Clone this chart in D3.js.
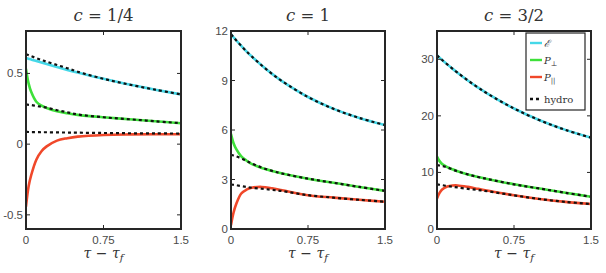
<!DOCTYPE html>
<html>
<head>
<meta charset="utf-8">
<script src="https://cdn.jsdelivr.net/npm/d3@7"></script>
<style>
  body { margin: 0; background: #fff; }
  svg text { font-family: "Liberation Sans", Arial, sans-serif; }
</style>
</head>
<body>
<svg id="chart" width="606" height="273"></svg>
<script>
// data
const tau = [0, 0.025, 0.05, 0.1, 0.15, 0.2, 0.3, 0.4, 0.5, 0.75, 1.0, 1.25, 1.5];

// c = 1/4
const e_q = [0.61, 0.604, 0.599, 0.588, 0.577, 0.566, 0.545, 0.525, 0.506, 0.462, 0.421, 0.385, 0.352];
const pt_q = [0.53, 0.43, 0.37, 0.3, 0.272, 0.256, 0.232, 0.218, 0.207, 0.19, 0.176, 0.162, 0.148];
const pl_q = [-0.44, -0.3, -0.22, -0.11, -0.05, -0.016, 0.025, 0.042, 0.053, 0.065, 0.069, 0.07, 0.07];
const he_q = [0.636, 0.629, 0.622, 0.608, 0.595, 0.583, 0.56, 0.537, 0.512, 0.462, 0.421, 0.385, 0.352];
const hpt_q = [0.28, 0.278, 0.276, 0.27, 0.264, 0.258, 0.24, 0.225, 0.21, 0.19, 0.176, 0.162, 0.148];
const hpl_q = [0.086, 0.086, 0.085, 0.085, 0.084, 0.084, 0.083, 0.082, 0.081, 0.079, 0.077, 0.076, 0.075];

// c = 1
const e_1 = [11.8, 11.62, 11.44, 11.1, 10.77, 10.47, 9.91, 9.4, 8.95, 8.0, 7.28, 6.73, 6.3];
const pt_1 = [5.76, 5.2, 4.85, 4.4, 4.15, 3.95, 3.7, 3.52, 3.36, 3.05, 2.8, 2.55, 2.31];
const pl_1 = [0.24, 1.0, 1.5, 2.15, 2.38, 2.5, 2.55, 2.47, 2.35, 2.05, 1.9, 1.77, 1.65];
const he_1 = [11.8, 11.62, 11.44, 11.1, 10.77, 10.47, 9.91, 9.4, 8.95, 8.0, 7.28, 6.73, 6.3];
const hpt_1 = [4.5, 4.45, 4.4, 4.28, 4.12, 3.98, 3.72, 3.52, 3.36, 3.05, 2.8, 2.55, 2.31];
const hpl_1 = [2.69, 2.68, 2.66, 2.6, 2.55, 2.5, 2.44, 2.37, 2.3, 2.05, 1.9, 1.77, 1.65];

// c = 3/2
const e_3 = [30.7, 30.28, 29.87, 29.1, 28.35, 27.63, 26.26, 25.0, 23.84, 21.3, 19.22, 17.52, 16.15];
const pt_3 = [12.8, 12.0, 11.5, 10.95, 10.55, 10.2, 9.65, 9.2, 8.8, 7.9, 7.15, 6.4, 5.71];
const pl_3 = [5.4, 6.4, 7.0, 7.5, 7.68, 7.7, 7.45, 7.1, 6.75, 5.95, 5.3, 4.8, 4.42];
const he_3 = [30.7, 30.28, 29.87, 29.1, 28.35, 27.63, 26.26, 25.0, 23.84, 21.3, 19.22, 17.52, 16.15];
const hpt_3 = [11.3, 11.22, 11.15, 10.9, 10.52, 10.2, 9.65, 9.2, 8.8, 7.9, 7.15, 6.4, 5.71];
const hpl_3 = [7.9, 7.82, 7.75, 7.6, 7.47, 7.35, 7.1, 6.9, 6.65, 5.95, 5.3, 4.8, 4.42];

const x_ticks = [0, 0.75, 1.5];
const x_tick_labels = ["0", "0.75", "1.5"];

const panels = [
  { title: "1/4", left: 26, right: 181, domain: [-0.6, 0.8], ticks: [-0.5, 0, 0.5], labels: ["-0.5", "0", "0.5"],
    e: e_q, pt: pt_q, pl: pl_q, he: he_q, hpt: hpt_q, hpl: hpl_q },
  { title: "1", left: 231, right: 385, domain: [0, 12], ticks: [0, 3, 6, 9, 12], labels: ["0", "3", "6", "9", "12"],
    e: e_1, pt: pt_1, pl: pl_1, he: he_1, hpt: hpt_1, hpl: hpl_1 },
  { title: "3/2", left: 437, right: 591, domain: [0, 35], ticks: [0, 10, 20, 30], labels: ["0", "10", "20", "30"],
    e: e_3, pt: pt_3, pl: pl_3, he: he_3, hpt: hpt_3, hpl: hpl_3 }
];

const top_y = 31;
const bottom_y = 229;
const col_e = "#45d8e8";
const col_pt = "#3ee03a";
const col_pl = "#f0482a";
const frame_col = "#262626";
const tick_col = "#4a4a4a";

const svg = d3.select("#chart");

panels.forEach((p) => {
  const x = d3.scaleLinear().domain([0, 1.5]).range([p.left, p.right]);
  const y = d3.scaleLinear().domain(p.domain).range([bottom_y, top_y]);
  const g = svg.append("g");

  const clip_id = "clip" + p.left;
  g.append("clipPath").attr("id", clip_id)
    .append("rect").attr("x", p.left).attr("y", top_y).attr("width", p.right - p.left).attr("height", bottom_y - top_y);

  const line = (vals) => d3.line().x((d, i) => x(tau[i])).y((d) => y(d)).curve(d3.curveCatmullRom.alpha(0.5))(vals);

  const plot = g.append("g").attr("clip-path", `url(#${clip_id})`);
  [[p.e, col_e], [p.pt, col_pt], [p.pl, col_pl]].forEach(([vals, col]) => {
    plot.append("path").attr("d", line(vals)).attr("fill", "none")
      .attr("stroke", col).attr("stroke-width", 2.6).attr("stroke-linecap", "round");
  });
  [p.he, p.hpt, p.hpl].forEach((vals) => {
    plot.append("path").attr("d", line(vals)).attr("fill", "none")
      .attr("stroke", "#111").attr("stroke-width", 2.2).attr("stroke-dasharray", "3,3");
  });

  // frame
  g.append("rect").attr("x", p.left).attr("y", top_y).attr("width", p.right - p.left).attr("height", bottom_y - top_y)
    .attr("fill", "none").attr("stroke", frame_col).attr("stroke-width", 2);

  // y ticks (mirrored)
  p.ticks.forEach((t, i) => {
    const yy = y(t);
    g.append("line").attr("x1", p.left).attr("x2", p.left + 4).attr("y1", yy).attr("y2", yy).attr("stroke", frame_col);
    g.append("line").attr("x1", p.right).attr("x2", p.right - 4).attr("y1", yy).attr("y2", yy).attr("stroke", frame_col);
    g.append("text").attr("x", p.left - 3).attr("y", yy + 4).attr("text-anchor", "end")
      .attr("font-size", 11.5).attr("fill", tick_col).text(p.labels[i]);
  });

  // x ticks (mirrored)
  x_ticks.forEach((t, i) => {
    const xx = x(t);
    g.append("line").attr("x1", xx).attr("x2", xx).attr("y1", bottom_y).attr("y2", bottom_y - 4).attr("stroke", frame_col);
    g.append("line").attr("x1", xx).attr("x2", xx).attr("y1", top_y).attr("y2", top_y + 4).attr("stroke", frame_col);
    g.append("text").attr("x", xx).attr("y", bottom_y + 15).attr("text-anchor", "middle")
      .attr("font-size", 11.5).attr("fill", tick_col).text(x_tick_labels[i]);
  });

  // x label
  const xl = g.append("text").attr("x", (p.left + p.right) / 2).attr("y", 258).attr("text-anchor", "middle")
    .attr("fill", "#333").attr("font-size", 14).style("font-family", "'DejaVu Serif', serif");
  xl.append("tspan").attr("font-style", "italic").text("τ");
  xl.append("tspan").text(" − ");
  xl.append("tspan").attr("font-style", "italic").text("τ");
  xl.append("tspan").attr("font-style", "italic").attr("font-size", 10).attr("dy", 3).text("f");

  // title
  const tt = g.append("text").attr("x", (p.left + p.right) / 2).attr("y", 21).attr("text-anchor", "middle")
    .attr("fill", "#333").attr("font-size", 16.5).style("font-family", "'DejaVu Serif', serif");
  tt.append("tspan").attr("font-style", "italic").text("c");
  tt.append("tspan").text(" = " + p.title);
});

// legend in third panel
const legend_items = [
  { label: "ℰ", col: col_e, dash: null, sub: null },
  { label: "P", col: col_pt, dash: null, sub: "⊥" },
  { label: "P", col: col_pl, dash: null, sub: "||" },
  { label: "hydro", col: "#111", dash: "3,3", sub: null }
];
const lg = svg.append("g");
lg.append("rect").attr("x", 526).attr("y", 33).attr("width", 59).attr("height", 77)
  .attr("fill", "#fff").attr("stroke", frame_col).attr("stroke-width", 1.2);
const leg_y = [43, 60, 77, 99];
legend_items.forEach((d, i) => {
  lg.append("line").attr("x1", 530).attr("x2", 542).attr("y1", leg_y[i]).attr("y2", leg_y[i])
    .attr("stroke", d.col).attr("stroke-width", 2.4).attr("stroke-dasharray", d.dash);
  const t = lg.append("text").attr("x", 544).attr("y", leg_y[i] + 3.5).attr("font-size", 10)
    .attr("fill", "#333").style("font-family", "'DejaVu Serif', serif");
  if (d.label === "hydro") {
    t.text(d.label);
  } else {
    t.append("tspan").attr("font-style", "italic").text(d.label);
    if (d.sub) t.append("tspan").attr("font-size", 7).attr("dy", 2).text(d.sub);
  }
});
</script>
</body>
</html>
